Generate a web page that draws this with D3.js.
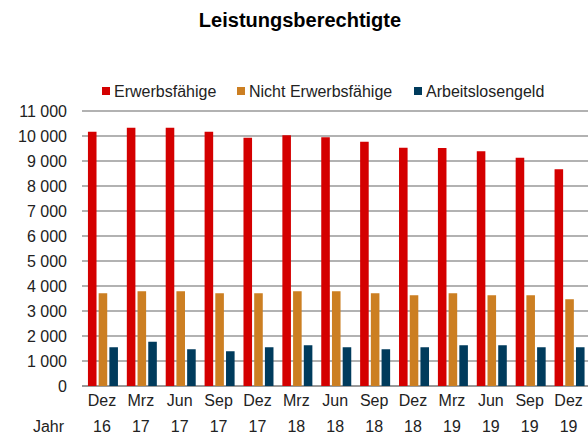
<!DOCTYPE html>
<html>
<head>
<meta charset="utf-8">
<script src="https://cdn.jsdelivr.net/npm/d3@7"></script>
<style>
  body { margin: 0; background: #fff; }
  svg { font-family: "Liberation Sans", Arial, Helvetica, sans-serif; }
  .title { font-weight: bold; font-size: 20px; fill: #000; }
  .tick text, .lbl, .legend text { fill: #222; font-size: 16px; }
</style>
</head>
<body>
<svg width="588" height="437"></svg>
<script>
const months = ["Dez", "Mrz", "Jun", "Sep", "Dez", "Mrz", "Jun", "Sep", "Dez", "Mrz", "Jun", "Sep", "Dez"]
const years = ["16", "17", "17", "17", "17", "18", "18", "18", "18", "19", "19", "19", "19"]
const seriesNames = ["Erwerbsfähige", "Nicht Erwerbsfähige", "Arbeitslosengeld"]
const erwerbsfaehige = [10170, 10330, 10330, 10170, 9930, 10030, 9950, 9770, 9530, 9520, 9390, 9130, 8670]
const nichtErwerbsfaehige = [3710, 3790, 3790, 3710, 3710, 3790, 3790, 3710, 3630, 3710, 3630, 3630, 3470]
const arbeitslosengeld = [1550, 1770, 1470, 1390, 1550, 1630, 1550, 1470, 1550, 1630, 1630, 1550, 1550]
const yTicks = [0, 1000, 2000, 3000, 4000, 5000, 6000, 7000, 8000, 9000, 10000, 11000]
const colors = ["#d40000", "#cc7f22", "#003b5c"]

const svg = d3.select("svg")

const x = d3.scaleBand()
  .domain(d3.range(months.length))
  .range([82.5, 588])

const y = d3.scaleLinear()
  .domain([0, 11000])
  .range([386, 111])

const inner = d3.scaleBand()
  .domain(d3.range(3))
  .range([-14, 16])
  .paddingInner(0.2)

// title
svg.append("text")
  .attr("class", "title")
  .attr("x", 300)
  .attr("y", 27)
  .attr("text-anchor", "middle")
  .text("Leistungsberechtigte")

// gridlines
svg.append("g")
  .selectAll("line")
  .data(yTicks)
  .enter()
  .append("line")
  .attr("x1", 82)
  .attr("x2", 588)
  .attr("y1", d => y(d))
  .attr("y2", d => y(d))
  .attr("stroke", "#999")
  .attr("stroke-width", d => d === 0 ? 2 : 1.5)

// y axis labels
const fmt = v => v >= 1000 ? Math.floor(v / 1000) + " " + String(v % 1000).padStart(3, "0") : String(v)
const yAxis = svg.append("g")
  .attr("transform", "translate(67,0)")
  .call(d3.axisLeft(y).tickValues(yTicks).tickSize(0).tickPadding(0).tickFormat(fmt))
yAxis.select(".domain").remove()
yAxis.selectAll("text").attr("dy", "0.36em")

// bars
const series = [erwerbsfaehige, nichtErwerbsfaehige, arbeitslosengeld]
series.forEach((vals, s) => {
  svg.append("g")
    .selectAll("rect")
    .data(vals)
    .enter()
    .append("rect")
    .attr("x", (d, i) => x(i) + x.bandwidth() / 2 + inner(s))
    .attr("width", inner.bandwidth())
    .attr("y", d => y(d))
    .attr("height", d => y(0) - y(d))
    .attr("fill", colors[s])
})

// x labels
const xl = svg.append("g")
xl.selectAll("text.m")
  .data(months)
  .enter()
  .append("text")
  .attr("class", "lbl m")
  .attr("x", (d, i) => x(i) + x.bandwidth() / 2)
  .attr("y", 406)
  .attr("text-anchor", "middle")
  .text(d => d)
xl.selectAll("text.yr")
  .data(years)
  .enter()
  .append("text")
  .attr("class", "lbl yr")
  .attr("x", (d, i) => x(i) + x.bandwidth() / 2)
  .attr("y", 432)
  .attr("text-anchor", "middle")
  .text(d => d)
svg.append("text")
  .attr("class", "lbl")
  .attr("x", 64)
  .attr("y", 432)
  .attr("text-anchor", "end")
  .text("Jahr")

// legend
const legendX = [102, 237, 414]
const legend = svg.append("g").attr("class", "legend")
  .selectAll("g")
  .data(seriesNames)
  .enter()
  .append("g")
  .attr("transform", (d, i) => `translate(${legendX[i]}, 0)`)
legend.append("rect")
  .attr("y", 87)
  .attr("width", 8)
  .attr("height", 8)
  .attr("fill", (d, i) => colors[i])
legend.append("text")
  .attr("x", 12)
  .attr("y", 97)
  .text(d => d)
</script>
</body>
</html>
